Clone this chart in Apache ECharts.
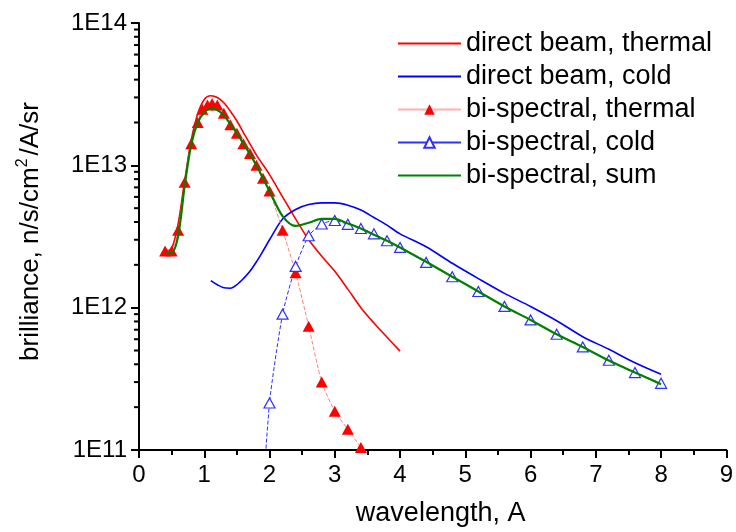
<!DOCTYPE html>
<html>
<head>
<meta charset="utf-8">
<script src="https://cdn.jsdelivr.net/npm/echarts@6/dist/echarts.min.js"></script>
<style>html,body{margin:0;padding:0;background:#fff;}#c{width:736px;height:532px;}</style>
</head>
<body>
<div id="c"></div>
<script>
// ---- data ----
const seriesNames = ['direct beam, thermal', 'direct beam, cold', 'bi-spectral, thermal', 'bi-spectral, cold', 'bi-spectral, sum'];

const directThermalX = [0.4, 0.5, 0.6, 0.7, 0.8, 0.9, 1.0, 1.1, 1.2, 1.3, 1.4, 1.5, 1.6, 1.8, 2.0, 2.2, 2.4, 2.6, 2.8, 3.0, 3.2, 3.4, 3.6, 3.8, 4.0];
const directThermalY = [2.5e12, 2.6e12, 3.9e12, 7.8e12, 1.5e13, 2.3e13, 2.9e13, 3.08e13, 3.0e13, 2.75e13, 2.4e13, 2.05e13, 1.7e13, 1.18e13, 8.6e12, 6.0e12, 4.2e12, 3.0e12, 2.3e12, 1.8e12, 1.35e12, 1.0e12, 7.8e11, 6.2e11, 4.95e11];

const directColdX = [1.1, 1.2, 1.3, 1.4, 1.5, 1.6, 1.7, 1.8, 1.9, 2.0, 2.2, 2.4, 2.6, 2.8, 3.0, 3.2, 3.4, 3.6, 3.8, 4.0, 4.4, 4.8, 5.2, 5.6, 6.0, 6.4, 6.8, 7.2, 7.6, 8.0];
const directColdY = [1.55e12, 1.45e12, 1.38e12, 1.37e12, 1.45e12, 1.6e12, 1.8e12, 2.1e12, 2.5e12, 3.0e12, 4.2e12, 4.9e12, 5.3e12, 5.45e12, 5.45e12, 5.25e12, 4.85e12, 4.3e12, 3.8e12, 3.3e12, 2.68e12, 2.05e12, 1.6e12, 1.26e12, 1.02e12, 8.1e11, 6.25e11, 5.1e11, 4.1e11, 3.4e11];

const biThermalX = [0.4, 0.5, 0.6, 0.7, 0.8, 0.9, 0.97, 1.05, 1.12, 1.2, 1.3, 1.4, 1.5, 1.6, 1.7, 1.8, 1.9, 2.0, 2.2, 2.4, 2.6, 2.8, 3.0, 3.2, 3.4, 3.6];
const biThermalY = [2.5e12, 2.5e12, 3.5e12, 7.6e12, 1.42e13, 2.0e13, 2.48e13, 2.65e13, 2.72e13, 2.65e13, 2.32e13, 1.93e13, 1.68e13, 1.42e13, 1.21e13, 1.0e13, 8.1e12, 6.6e12, 3.5e12, 1.76e12, 7.4e11, 3.0e11, 1.87e11, 1.4e11, 1.04e11, 7.5e10];

const biColdX = [1.8, 2.0, 2.2, 2.4, 2.6, 2.8, 3.0, 3.2, 3.4, 3.6, 3.8, 4.0, 4.4, 4.8, 5.2, 5.6, 6.0, 6.4, 6.8, 7.2, 7.6, 8.0];
const biColdY = [1.0e10, 2.14e11, 9.0e11, 1.95e12, 3.2e12, 3.87e12, 4.1e12, 3.85e12, 3.6e12, 3.3e12, 2.95e12, 2.65e12, 2.08e12, 1.65e12, 1.3e12, 1.02e12, 8.2e11, 6.5e11, 5.3e11, 4.27e11, 3.5e11, 2.94e11];

const biSumX = [0.4, 0.5, 0.6, 0.7, 0.8, 0.9, 1.0, 1.1, 1.2, 1.3, 1.4, 1.5, 1.6, 1.7, 1.8, 1.9, 2.0, 2.2, 2.4, 2.6, 2.8, 3.0, 3.2, 3.4, 3.6, 3.8, 4.0, 4.4, 4.8, 5.2, 5.6, 6.0, 6.4, 6.8, 7.2, 7.6, 8.0];
const biSumY = [2.45e12, 2.45e12, 3.2e12, 7.2e12, 1.4e13, 2.0e13, 2.35e13, 2.5e13, 2.45e13, 2.25e13, 1.95e13, 1.68e13, 1.42e13, 1.2e13, 1.0e13, 8.1e12, 6.6e12, 4.4e12, 3.75e12, 3.95e12, 4.2e12, 4.2e12, 3.9e12, 3.6e12, 3.25e12, 2.95e12, 2.65e12, 2.1e12, 1.65e12, 1.3e12, 1.02e12, 8.2e11, 6.5e11, 5.3e11, 4.25e11, 3.5e11, 2.9e11];

const xTickLabels = ['0','1','2','3','4','5','6','7','8','9'];
const yDecades = [11, 12, 13, 14];
// minor ticks of the log axis at 2..9 x 10^n
const yMinorTicks = [];
for (let d = 11; d < 14; d++) { for (let m = 2; m <= 9; m++) yMinorTicks.push(m * Math.pow(10, d)); }

// ---- chart ----
const zip = (xs, ys) => xs.map((x, i) => [x, ys[i]]);
const FONT = 'Arial, "Liberation Sans", sans-serif';
const chart = echarts.init(document.getElementById('c'), null, {renderer: 'canvas'});

chart.setOption({
  animation: false,
  backgroundColor: '#ffffff',
  grid: {left: 139, right: 9, top: 23, bottom: 76, containLabel: false},
  legend: {
    orient: 'vertical', left: 392, top: 25,
    itemWidth: 63, itemHeight: 13, itemGap: 6,
    textStyle: {fontFamily: FONT, fontSize: 27, color: '#000'},
    data: [
      {name: seriesNames[0], itemStyle: {opacity: 0}},
      {name: seriesNames[1], itemStyle: {opacity: 0}},
      {name: seriesNames[2], lineStyle: {type: 'solid', color: '#ffb0b0'}},
      {name: seriesNames[3], lineStyle: {type: 'solid'}},
      {name: seriesNames[4], itemStyle: {opacity: 0}}
    ]
  },
  xAxis: {
    type: 'value', min: 0, max: 9, interval: 1,
    axisLine: {show: true, onZero: false, lineStyle: {color: '#000', width: 2}},
    axisTick: {show: true, length: 8, lineStyle: {color: '#000', width: 2}},
    minorTick: {show: true, splitNumber: 2, length: 5, lineStyle: {color: '#000', width: 2}},
    splitLine: {show: false},
    axisLabel: {fontFamily: FONT, fontSize: 24, color: '#000', margin: 13,
      formatter: v => xTickLabels[Math.round(v)]},
    name: 'wavelength, A', nameLocation: 'middle', nameGap: 50,
    nameTextStyle: {fontFamily: FONT, fontSize: 27, color: '#000', padding: [0, 0, 0, 16]}
  },
  yAxis: {
    type: 'log', logBase: 10, min: 1e11, max: 1e14, position: 'left',
    axisLine: {show: true, onZero: false, lineStyle: {color: '#000', width: 2}},
    axisTick: {show: true, length: 8, lineStyle: {color: '#000', width: 2}},
    splitLine: {show: false},
    axisLabel: {fontFamily: FONT, fontSize: 24, color: '#000', margin: 12,
      formatter: v => '1E' + yDecades[yDecades.indexOf(Math.round(Math.log10(v)))]},
    name: 'brilliance, n/s/cm{sup|2}/A/sr', nameLocation: 'middle', nameGap: 93,
    nameTextStyle: {fontFamily: FONT, fontSize: 26, color: '#000', padding: [0, 0, 0, 10],
      rich: {sup: {fontFamily: FONT, fontSize: 16, color: '#000', verticalAlign: 'top', padding: [0, 3, 15, 0]}}}
  },
  series: [
    {name: seriesNames[0], type: 'line', data: zip(directThermalX, directThermalY), smooth: 0.3,
     showSymbol: false, symbol: 'none', color: '#ff0000', lineStyle: {color: '#ff0000', width: 1.6}, z: 2},
    {name: seriesNames[1], type: 'line', data: zip(directColdX, directColdY), smooth: 0.3,
     showSymbol: false, symbol: 'none', color: '#0000ff', lineStyle: {color: '#0000ff', width: 1.6}, z: 2},
    {name: seriesNames[2], type: 'line', data: zip(biThermalX, biThermalY), smooth: 0.2,
     symbol: 'triangle', symbolSize: [12, 11], color: '#ff0000',
     itemStyle: {color: '#ff0000', borderWidth: 0},
     lineStyle: {color: '#ff8080', width: 1, type: [4, 2]}, z: 3},
    {name: seriesNames[3], type: 'line', data: zip(biColdX, biColdY), smooth: 0.2,
     symbol: 'triangle', symbolSize: [11, 10], color: '#3333ff',
     itemStyle: {color: '#ffffff', borderColor: '#3030ff', borderWidth: 1.2},
     lineStyle: {color: '#3030ff', width: 1, type: [4, 2]}, z: 3},
    {name: seriesNames[4], type: 'line', data: zip(biSumX, biSumY), smooth: 0.3,
     showSymbol: false, symbol: 'none', color: '#008000', lineStyle: {color: '#008000', width: 2.2}, z: 4},
    {
      name: 'y minor ticks', type: 'custom', clip: false, silent: true, z: 5,
      data: yMinorTicks.map(v => [0, v]),
      renderItem: (params, api) => {
        const p = api.coord([api.value(0), api.value(1)]);
        return {type: 'line', shape: {x1: p[0] - 5, y1: p[1], x2: p[0], y2: p[1]},
                style: {stroke: '#000', lineWidth: 2}};
      }
    }
  ]
});
</script>
</body>
</html>
